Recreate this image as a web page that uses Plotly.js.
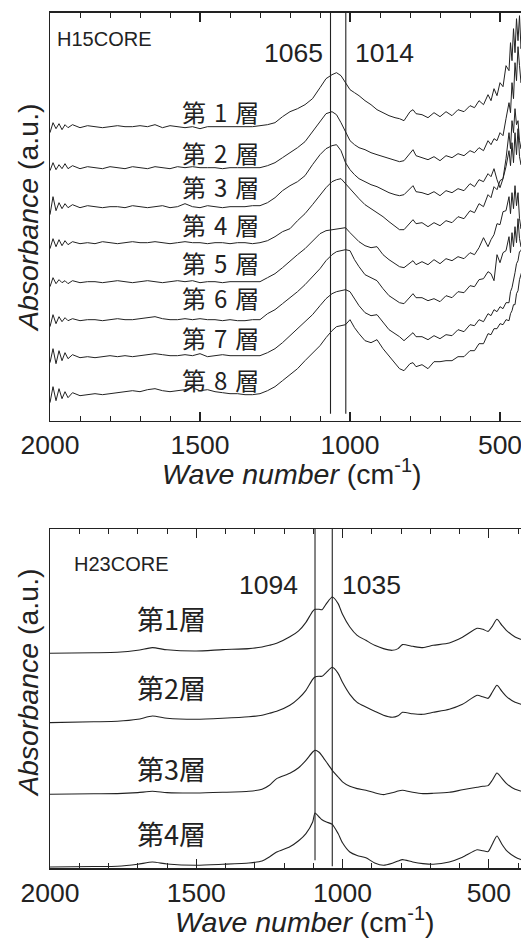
<!DOCTYPE html>
<html>
<head>
<meta charset="utf-8">
<script src="https://cdn.plot.ly/plotly-3.0.1.min.js"></script>
<style>
html,body{margin:0;padding:0;background:#fff;overflow:hidden;width:521px;height:939px;}
#chart{width:540px;height:939px;}
</style>
</head>
<body>
<div id="chart"></div>
<script>
// ---------- Top panel (H15CORE) ----------
const topWn = [2000,1990,1980,1970,1960,1950,1940,1925,1900,1875,1850,1825,1800,1775,1750,1725,1700,1675,1650,1625,1600,1575,1550,1525,1500,1475,1450,1425,1400,1375,1350,1325,1300,
  1275,1250,1225,1200,1175,1150,1125,1100,1080,1060,1045,1030,1015,1000,985,970,950,930,910,890,870,850,835,
  820,800,790,780,760,740,720,700,680,660,640,620,600,585,570,555,540,530,520,510,500,490,480,470,465,460,455,450,445,440,435,430,420];

const top1 = [288,298,292,297,291,296,293,296,293,295,294,293,294,295,294,294,295,294,296,293,295,294,293,294,292,294,294,294,294,294,294,294,295,
  296,298,304,309,312,316,322,333,342,346,348,345,338,331,328,325,320,316,311,308,305,303,302,
  300,309,311,307,306,303,308,304,309,305,311,309,315,313,320,316,326,320,332,325,338,334,355,350,378,360,392,368,402,380,405,372,395];
const top2 = [250,258,251,256,252,257,252,255,252,254,253,252,254,253,252,254,253,252,254,253,252,254,253,254,253,253,253,252,253,253,253,253,253,
  255,258,263,268,273,279,289,300,307,309,306,298,289,280,276,273,271,268,266,264,262,260,259,
  260,268,271,265,263,261,264,260,265,263,267,265,270,268,273,270,280,276,282,280,288,285,302,318,308,338,322,358,340,374,355,338,352];
const top3 = [206,224,210,218,212,217,213,216,213,215,214,213,214,214,213,215,214,213,214,215,213,214,217,214,213,215,214,213,214,214,214,215,215,
  218,223,230,235,239,245,256,266,272,275,276,270,258,251,246,242,239,236,234,231,228,226,225,
  226,232,235,229,228,226,229,225,230,228,232,230,237,234,241,239,247,244,252,241,233,242,262,288,272,300,288,312,296,300,280,272,288];
const top4 = [172,182,174,181,175,180,176,179,177,178,177,179,178,177,178,179,178,178,179,178,177,178,179,178,178,177,178,178,177,178,178,177,178,
  180,184,189,192,200,207,216,225,233,239,241,242,237,231,227,222,216,212,208,204,199,194,191,
  191,197,201,197,198,194,198,195,200,198,204,202,210,208,217,214,226,223,234,231,240,242,254,270,255,278,258,288,266,292,264,256,272];
const top5 = [134,143,137,141,138,140,137,140,138,139,139,138,139,140,139,138,139,140,139,138,139,140,139,140,138,139,139,138,139,139,139,139,139,
  143,147,153,160,166,172,180,187,190,191,191,192,193,188,183,179,175,173,174,166,161,157,154,
  153,158,160,156,159,156,161,157,162,160,164,162,168,166,173,183,174,181,186,197,196,209,210,224,207,228,212,235,215,228,202,192,208];
const top6 = [94,106,97,104,99,103,100,102,100,101,101,100,101,102,101,101,102,103,104,102,101,101,102,101,102,101,101,100,101,100,100,101,101,
  107,111,117,123,129,136,144,152,160,166,169,170,171,170,161,154,146,143,140,132,125,121,118,
  117,124,127,123,123,120,122,119,125,123,129,128,135,134,141,142,149,147,140,166,158,168,170,184,168,188,174,194,178,202,182,174,188];
const top7 = [58,72,57,70,60,68,62,66,63,64,63,64,65,64,65,64,65,66,67,66,65,65,66,65,67,64,65,66,65,65,65,65,65,
  68,72,78,85,91,98,106,115,122,127,129,130,131,129,122,115,108,105,106,98,91,87,84,
  80,86,88,84,84,81,85,82,86,85,91,89,96,95,101,99,107,105,111,109,114,112,118,118,129,133,143,148,157,160,169,170,180];
const top8 = [18,34,20,32,22,29,23,28,25,26,27,26,27,28,29,30,29,31,32,30,29,30,31,33,30,31,29,28,27,27,26,26,27,
  30,34,40,46,52,60,67,75,83,90,94,95,96,101,93,87,80,78,81,72,65,58,52,
  50,57,58,54,56,52,59,59,60,60,64,64,70,70,77,77,87,86,92,92,97,96,101,100,107,110,116,116,127,130,141,146,157];
const topSeries = [top1,top2,top3,top4,top5,top6,top7,top8];
const topLabels = ['第\u20041\u2004層','第\u20042\u2004層','第\u20043\u2004層','第\u20044\u2004層','第\u20045\u2004層','第\u20046\u2004層','第\u20047\u2004層','第\u20048\u2004層'];
const topLabelY = [309,268,234,196,158,123,83,41];
const topLabelX = 1433;
const topPeaks = [1065,1014];
const topPeakText = ['1065','1014'];

// ---------- Bottom panel (H23CORE) ----------
const botWn = [2000,1850,1770,1700,1650,1600,1500,1410,1320,1275,1250,1225,1180,1150,1125,1102,1094,1080,1070,1055,1035,1015,1000,975,950,920,890,860,830,810,795,760,725,690,635,590,540,520,502,488,472,455,440,410,390,360];
const bot1 = [215,215.5,216,218,220.7,218.5,217.3,218.7,219.7,221.3,223,225,231.5,237.5,246,257,259,259,258.7,264.7,271.3,264.7,254,241.3,233,228,223,219.7,218,219.7,223.7,222,220.7,223,225.3,231,240,239,237,242,249,243,238,231.3,229,226];
const bot2 = [145.7,146.5,147,149,152.3,150,149,150,151.5,153,155,157,163,170,178,189,191.3,192,192,196,201,195,186,174,166,161.3,157,153,151,152.5,156,154.5,154,156,159,164,173,171.5,170,176,183,177,172,166,164,161];
const bot3 = [74,74.5,74.7,75.7,77,75.7,75.3,76,77,79,83,89.7,95,100.5,108,116.3,118,116,112.5,106.3,98,91.3,86.5,82,79.7,78,75.5,73.7,75.5,77.3,78,76,74.7,75,76,78.5,81,82,82.7,88,95.3,90,85,79,77.3,75];
const bot4 = [1.3,1.8,2,4,6.3,4.3,3,4,5.3,7.3,11.3,16.3,21.5,27.5,34.7,46.3,55.3,51.3,48.5,46.3,44,34.7,25.5,16.3,12.8,10.5,5.3,3,5,7.3,8.7,6.3,4.7,4,6.3,11,18.5,17.5,16.7,24,32.3,24,18,11.3,8.7,6];
const botSeries = [bot1,bot2,bot3,bot4];
const botLabels = ['第1層','第2層','第3層','第4層'];
const botLabelY = [250,181,100,35];
const botLabelX = 1583;
const botPeaks = [1094,1035];
const botPeakText = ['1094','1035'];

const xTitle = '<i>Wave number</i> (cm<sup>-1</sup>)';
const yTitle = '<i>Absorbance</i> (a.u.)';

const ink = '#222';
const traces = [];
topSeries.forEach(s => traces.push({x: topWn, y: s, xaxis:'x', yaxis:'y', type:'scatter', mode:'lines', line:{color:ink, width:1}, hoverinfo:'skip'}));
botSeries.forEach(s => traces.push({x: botWn, y: s, xaxis:'x2', yaxis:'y2', type:'scatter', mode:'lines', line:{color:ink, width:1.1, shape:'spline', smoothing:0.6}, hoverinfo:'skip'}));

const family = '"Liberation Sans", Arial, sans-serif';
const cjk = '"Noto Sans CJK JP", sans-serif';
const tickFont = {family:family, size:26.5, color:ink};
const titleFont = {family:family, size:28.5, color:ink};
function xAxis(range, anchor){
  return {anchor: anchor, range: range, showline:true, linecolor:ink, linewidth:1.5, mirror:'ticks',
    ticks:'inside', ticklen:9, tickwidth:1.2, tickcolor:ink, tick0:0, dtick:500,
    minor:{dtick:100, tick0:0, ticks:'inside', ticklen:5, tickwidth:1, tickcolor:ink},
    showgrid:false, zeroline:false, tickfont:tickFont};
}
function yAxis(domain, range, anchor){
  return {domain: domain, range: range, anchor: anchor, showline:true, linecolor:ink, linewidth:1.5, mirror:true,
    ticks:'', showticklabels:false, showgrid:false, zeroline:false};
}

const annotations = [];
// axis titles
[[0.504, 1-472/939],[0.531, 1-920/939]].forEach(p => annotations.push({xref:'paper', yref:'paper', x:p[0], y:p[1], text:xTitle, showarrow:false, xanchor:'center', yanchor:'middle', font:titleFont}));
[1-218/939, 1-683/939].forEach(py => annotations.push({xref:'paper', yref:'paper', x:-22/480, y:py, text:yTitle, textangle:-90, showarrow:false, xanchor:'center', yanchor:'middle', font:titleFont}));
// panel names
annotations.push({xref:'x', yref:'y', x:1983, y:382, text:'H15CORE', showarrow:false, xanchor:'left', yanchor:'middle', font:{family:family, size:20, color:ink}});
annotations.push({xref:'x2', yref:'y2', x:1925, y:304, text:'H23CORE', showarrow:false, xanchor:'left', yanchor:'middle', font:{family:family, size:20, color:ink}});
// layer labels
topLabels.forEach((t,i) => annotations.push({xref:'x', yref:'y', x:topLabelX, y:topLabelY[i], text:t, showarrow:false, xanchor:'center', yanchor:'middle', font:{family:cjk, size:24, color:ink}}));
botLabels.forEach((t,i) => annotations.push({xref:'x2', yref:'y2', x:botLabelX, y:botLabelY[i], text:t, showarrow:false, xanchor:'center', yanchor:'middle', font:{family:cjk, size:27, color:ink}}));
// peak labels
annotations.push({xref:'x', yref:'y', x:topPeaks[0], y:368, text:topPeakText[0], showarrow:false, xanchor:'right', yanchor:'middle', xshift:-6, font:tickFont});
annotations.push({xref:'x', yref:'y', x:topPeaks[1], y:368, text:topPeakText[1], showarrow:false, xanchor:'left', yanchor:'middle', xshift:7, font:tickFont});
annotations.push({xref:'x2', yref:'y2', x:botPeaks[0], y:283, text:botPeakText[0], showarrow:false, xanchor:'right', yanchor:'middle', xshift:-15, font:tickFont});
annotations.push({xref:'x2', yref:'y2', x:botPeaks[1], y:283, text:botPeakText[1], showarrow:false, xanchor:'left', yanchor:'middle', xshift:8, font:tickFont});

const shapes = [];
topPeaks.forEach(p => shapes.push({type:'line', xref:'x', yref:'y', x0:p, x1:p, y0:7, y1:408, line:{color:ink, width:1.1}}));
botPeaks.forEach((p,i) => shapes.push({type:'line', xref:'x2', yref:'y2', x0:p, x1:p, y0:i===0?8:2, y1:339.3, line:{color:ink, width:1.1}}));

const layout = {
  width:540, height:939,
  margin:{l:50, r:10, t:0, b:0},
  paper_bgcolor:'#fff', plot_bgcolor:'#fff',
  showlegend:false,
  font:tickFont,
  xaxis: xAxis([2000,400],'y'),
  yaxis: yAxis([0.5520,0.9865],[0,408],'x'),
  xaxis2: xAxis([2000,359],'y2'),
  yaxis2: yAxis([0.0753,0.4366],[0,339.3],'x2'),
  annotations: annotations,
  shapes: shapes
};
Plotly.newPlot('chart', traces, layout, {displayModeBar:false, staticPlot:true});
</script>
</body>
</html>
